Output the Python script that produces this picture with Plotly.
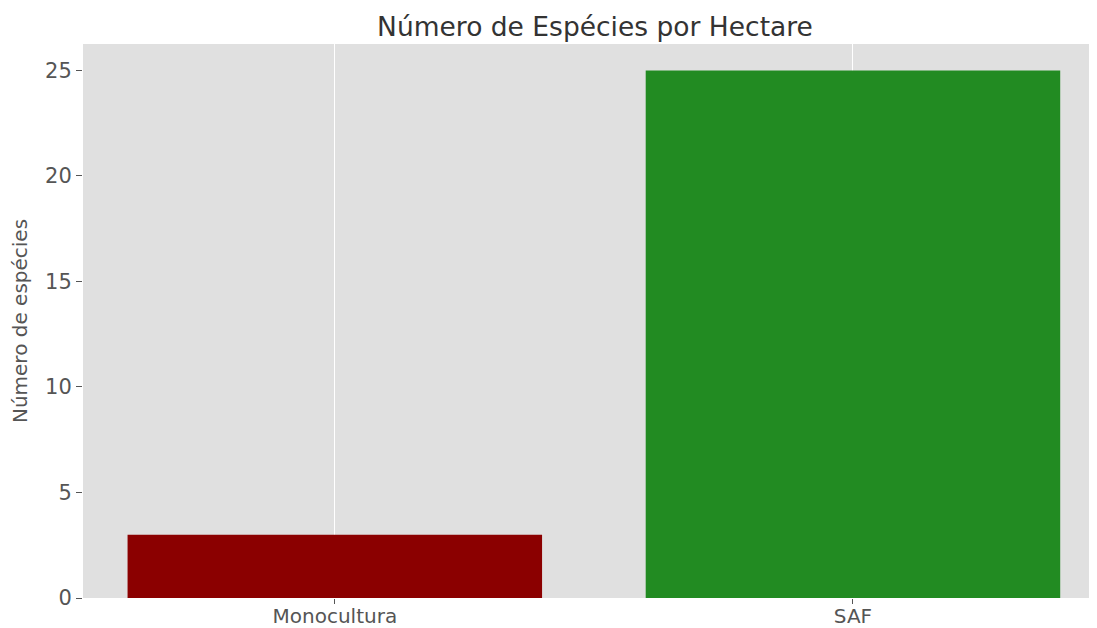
import plotly.graph_objects as go

CATEGORIES = ["Monocultura", "SAF"]
SPECIES = [3, 25]
COLORS = ["#8b0000", "#228b22"]

# the page adds an 8px body margin, so the figure is drawn 8px smaller
W, H = 1089, 620

fig = go.Figure()
fig.add_trace(
    go.Bar(
        x=CATEGORIES,
        y=SPECIES,
        marker=dict(color=COLORS, line=dict(width=0)),
        width=0.8,
    )
)

fig.update_xaxes(
    range=[-0.486, 1.471],
    showgrid=True,
    gridcolor="white",
    gridwidth=1,
    ticks="outside",
    ticklen=5,
    ticklabelstandoff=-5,
    tickcolor="#555555",
    tickfont=dict(size=20, color="#555555"),
    zeroline=False,
    automargin=False,
)
fig.update_yaxes(
    range=[0, 26.25],
    tickvals=[0, 5, 10, 15, 20, 25],
    showgrid=False,
    ticks="outside",
    ticklen=6,
    tickcolor="#555555",
    tickfont=dict(size=21, color="#555555"),
    zeroline=False,
    title=dict(text="Número de espécies", font=dict(size=20, color="#555555"), standoff=13),
)
fig.update_layout(
    width=W,
    height=H,
    title=dict(
        text="Número de Espécies por Hectare",
        x=587 / W,
        xanchor="center",
        y=1 - 19 / H,
        yanchor="middle",
        font=dict(size=26.5, color="#333333"),
    ),
    font=dict(family="DejaVu Sans"),
    plot_bgcolor="#e0e0e0",
    paper_bgcolor="white",
    margin=dict(l=75, r=0, t=36, b=30),
    showlegend=False,
)

fig.write_html("out.html")
